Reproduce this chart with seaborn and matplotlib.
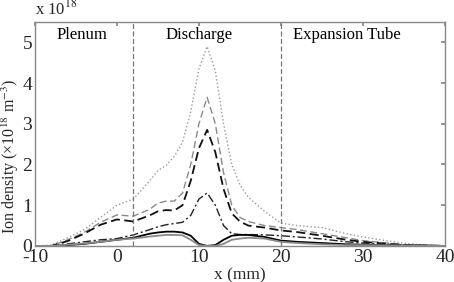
import matplotlib
matplotlib.use("Agg")
import matplotlib.pyplot as plt
import seaborn as sns
import pandas as pd

x_mm = [-10, -8, -6, -4, -2, 0, 2, 4, 5, 6, 7, 8, 9, 10, 11, 12, 13, 14, 15, 16, 18, 20, 22, 25, 28, 30, 35, 40]

dotted_gray = [0, 0.02, 0.2, 0.4, 0.7, 1.0, 1.15, 1.6, 1.85, 1.98, 2.2, 2.55, 3.3, 4.35, 4.9, 4.3, 3.0, 2.0, 1.5, 1.2, 0.85, 0.56, 0.5, 0.45, 0.3, 0.22, 0.06, 0]
dashed_gray = [0, 0.0, 0.15, 0.33, 0.58, 0.76, 0.73, 0.9, 1.05, 1.1, 1.1, 1.3, 2.0, 3.0, 3.65, 3.0, 1.8, 1.0, 0.7, 0.6, 0.5, 0.45, 0.4, 0.3, 0.2, 0.13, 0.03, 0]
dashed_black = [0, 0.0, 0.12, 0.3, 0.52, 0.65, 0.6, 0.75, 0.85, 0.88, 0.87, 1.0, 1.6, 2.4, 2.85, 2.3, 1.4, 0.8, 0.6, 0.5, 0.45, 0.38, 0.34, 0.25, 0.15, 0.1, 0.02, 0]
dashdot_black = [0, 0.0, 0.05, 0.1, 0.15, 0.18, 0.27, 0.4, 0.47, 0.52, 0.55, 0.58, 0.75, 1.15, 1.3, 1.0, 0.5, 0.3, 0.28, 0.28, 0.27, 0.25, 0.22, 0.17, 0.1, 0.07, 0.02, 0]
solid_black = [0, 0.0, 0.02, 0.05, 0.1, 0.15, 0.2, 0.3, 0.33, 0.35, 0.35, 0.33, 0.25, 0.05, 0.0, 0.02, 0.15, 0.25, 0.27, 0.27, 0.22, 0.13, 0.1, 0.07, 0.04, 0.03, 0.01, 0]
solid_gray = [0, 0.0, 0.03, 0.06, 0.1, 0.15, 0.18, 0.23, 0.25, 0.27, 0.27, 0.26, 0.15, 0.02, 0.0, 0.0, 0.05, 0.15, 0.18, 0.2, 0.18, 0.1, 0.07, 0.04, 0.02, 0.02, 0.01, 0]

region_bounds = [2, 20]
region_labels = ["Plenum", "Discharge", "Expansion Tube"]
region_label_x = [-4.3, 10, 28]

x_ticks = [-10, 0, 10, 20, 30, 40]
x_tick_labels = ["-10", "0", "10", "20", "30", "40"]
y_ticks = [0, 1, 2, 3, 4, 5]

series = [
    ("dotted_gray", dotted_gray, "#9a9a9a", ":", 1.0),
    ("dashed_gray", dashed_gray, "#8a8a8a", (0, (5, 2.5)), 1.0),
    ("dashed_black", dashed_black, "#111111", (0, (5, 2.5)), 1.3),
    ("dashdot_black", dashdot_black, "#222222", (0, (6, 2, 1.5, 2)), 1.0),
    ("solid_black", solid_black, "#000000", "-", 1.3),
    ("solid_gray", solid_gray, "#8a8a8a", "-", 1.3),
]

sns.set_theme(style="white")
plt.rcParams["font.family"] = ["Liberation Serif", "DejaVu Serif"]
plt.rcParams["mathtext.fontset"] = "stix"

fig = plt.figure(figsize=(4.54, 2.82), dpi=100)
ax = fig.add_axes([0.077, 0.128, 0.903, 0.794])

for name, vals, col, ls, lw in series:
    df = pd.DataFrame({"x": x_mm, "y": vals})
    sns.lineplot(data=df, x="x", y="y", ax=ax, color=col, linestyle=ls, linewidth=lw)

for b in region_bounds:
    ax.axvline(b, color="#777777", linestyle=(0, (4, 2)), linewidth=0.9)

for lab, lx in zip(region_labels, region_label_x):
    ax.text(lx, 5.17, lab, ha="center", va="center", fontsize=12, color="black")

ax.set_xlim(-10, 40)
ax.set_ylim(0, 5.5)
ax.set_xticks(x_ticks)
ax.set_xticklabels(x_tick_labels)
ax.set_yticks(y_ticks)
ax.set_xlabel("x (mm)", fontsize=12.5, labelpad=1)
ax.set_ylabel("Ion density (×10$^{18}$ m$^{-3}$)", fontsize=11.5)
ax.yaxis.set_label_coords(-0.033, 0.40)
ax.tick_params(direction="in", length=3, labelsize=14, top=True, right=True,
               color="#888888", pad=2)
for s in ax.spines.values():
    s.set_color("#888888")
    s.set_linewidth(1.0)
ax.text(0.0, 1.015, "x 10$^{18}$", transform=ax.transAxes, fontsize=12, ha="left", va="bottom")

fig.savefig("out.png", dpi=100)
